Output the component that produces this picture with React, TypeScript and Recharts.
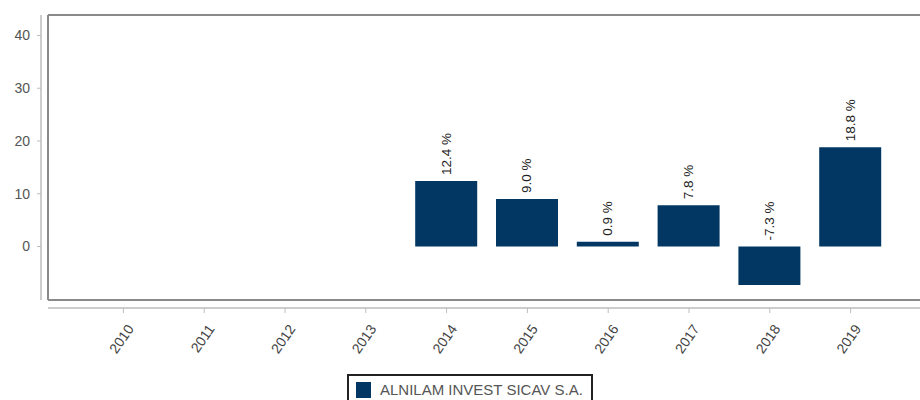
import { BarChart, Bar, XAxis, YAxis, CartesianGrid, Legend, LabelList } from 'recharts';

// Yearly performance values
const years = ['2010', '2011', '2012', '2013', '2014', '2015', '2016', '2017', '2018', '2019'];
const returns: (number | null)[] = [null, null, null, null, 12.4, 9.0, 0.9, 7.8, -7.3, 18.8];
const yTicks = [0, 10, 20, 30, 40];
const yDomain: [number, number] = [-10.14, 43.88];
const seriesName = 'ALNILAM INVEST SICAV S.A.';

const BAR_COLOR = '#033763';
const FONT = '"Liberation Sans", Arial, sans-serif';

const data = years.map((year, i) => ({ year, value: returns[i] }));

const xPadding = { left: 35, right: 39 };

const BarValueLabel = (props: any) => {
  const { x, y, width, height, value } = props;
  if (value == null) return null;
  const top = Math.min(y, y + height);
  const cx = x + width / 2;
  const ly = top - 6;
  return (
    <text
      x={cx}
      y={ly}
      transform={`rotate(-90 ${cx} ${ly})`}
      textAnchor="start"
      dominantBaseline="central"
      fontSize={13.5}
      fontFamily={FONT}
      fill="#222"
    >
      {`${Number(value).toFixed(1)} %`}
    </text>
  );
};

const YearTick = ({ x, y, payload }: any) => {
  const ax = x + 7;
  const ay = y + 11;
  return (
    <text
      x={ax}
      y={ay}
      transform={`rotate(-55 ${ax} ${ay})`}
      textAnchor="end"
      dominantBaseline="central"
      fontSize={14}
      fontFamily={FONT}
      fill="#444"
    >
      {payload.value}
    </text>
  );
};

const LegendBox = (props: any) => {
  const item = props.payload && props.payload[0];
  return (
    <div
      style={{
        display: 'inline-flex',
        alignItems: 'center',
        border: '2px solid #222',
        padding: '5px 8px 5px 7px',
        fontFamily: FONT,
        boxSizing: 'border-box',
      }}
    >
      <span style={{ display: 'inline-block', width: 15, height: 16, background: BAR_COLOR, marginRight: 9 }} />
      <span style={{ fontSize: 15, color: '#555', lineHeight: '18px' }}>{item ? item.value : seriesName}</span>
    </div>
  );
};

export default function App() {
  return (
    <div style={{ position: 'absolute', left: 0, top: 0, width: 920, height: 400, overflow: 'hidden', background: '#fff' }}>
      <BarChart width={940} height={400} data={data} margin={{ top: 15, right: 10, left: 0, bottom: 32 }}>
        <CartesianGrid
          xAxisId="main"
          yAxisId="main"
          stroke="#8a8a8a"
          strokeWidth={2}
          horizontalCoordinatesGenerator={({ offset }: any) => [offset.top, offset.top + offset.height]}
          verticalCoordinatesGenerator={({ offset }: any) => [offset.left, offset.left + offset.width]}
        />
        <XAxis
          xAxisId="gap"
          dataKey="year"
          height={8}
          tick={false}
          axisLine={false}
          tickLine={false}
          padding={xPadding}
        />
        <XAxis
          xAxisId="main"
          dataKey="year"
          height={60}
          interval={0}
          padding={xPadding}
          axisLine={{ stroke: '#bdbdbd', strokeWidth: 1.5 }}
          tickLine={{ stroke: '#bdbdbd' }}
          tickSize={5}
          tick={<YearTick />}
        />
        <YAxis yAxisId="gap" width={7} type="number" domain={yDomain} allowDataOverflow tick={false} axisLine={false} tickLine={false} />
        <YAxis
          yAxisId="main"
          width={41}
          type="number"
          domain={yDomain}
          allowDataOverflow
          ticks={yTicks}
          interval={0}
          axisLine={{ stroke: '#bdbdbd', strokeWidth: 1.5 }}
          tickLine={{ stroke: '#bdbdbd' }}
          tickSize={4}
          tickMargin={7}
          tick={{ fontSize: 14, fill: '#555', fontFamily: FONT }}
        />
        <Legend
          verticalAlign="middle"
          align="center"
          layout="horizontal"
          wrapperStyle={{ position: 'absolute', left: 347, top: 374, width: 'auto', height: 'auto' }}
          content={<LegendBox />}
        />
        <Bar
          xAxisId="main"
          yAxisId="main"
          dataKey="value"
          name={seriesName}
          fill={BAR_COLOR}
          barSize={62}
          isAnimationActive={false}
        >
          <LabelList dataKey="value" content={<BarValueLabel />} />
        </Bar>
      </BarChart>
    </div>
  );
}
